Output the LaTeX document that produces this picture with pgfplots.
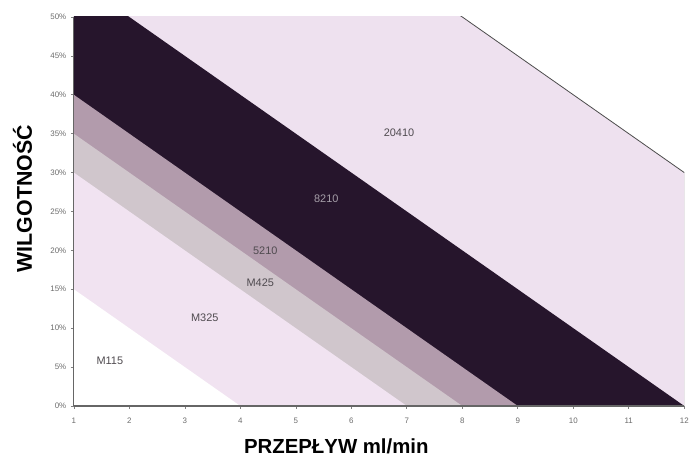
\documentclass[border=0pt]{standalone}
\usepackage{fontspec}
\setmainfont{Liberation Sans}
\usepackage{pgfplots}
\pgfplotsset{compat=1.18}
\definecolor{c20410}{RGB}{238,225,239}
\definecolor{c8210}{RGB}{38,21,44}
\definecolor{c5210}{RGB}{178,155,172}
\definecolor{cM425}{RGB}{208,198,204}
\definecolor{cM325}{RGB}{241,227,241}
\definecolor{lbl}{RGB}{80,75,80}
\begin{document}
\begin{tikzpicture}
\begin{axis}[
 scale only axis, width=612bp, height=390bp,
 xmin=1, xmax=12, ymin=0, ymax=50,
 xtick={1,...,12}, ytick={0,5,...,50},
 yticklabel={\pgfmathprintnumber{\tick}\%},
 axis x line*=bottom, axis y line*=left,
 axis line style={gray!80!black, line width=1.2pt, -},
 tick style={gray, line width=0.6pt},
 tick align=outside, major tick length=3bp,
 ticklabel style={font=\fontsize{8}{9}\selectfont, text=gray!85!black},
 xticklabel style={yshift=-5bp, text height=6bp, text depth=0bp, anchor=north},
 yticklabel style={xshift=-1bp},
 /pgf/number format/assume math mode=true,
 xlabel={PRZEPŁYW ml/min}, ylabel={WILGOTNOŚĆ},
 xlabel style={font=\fontsize{20.5}{22}\selectfont\bfseries, at={(axis description cs:0.43,-0.123)}, anchor=base},
 ylabel style={font=\fontsize{21.5}{23}\selectfont\bfseries, at={(axis description cs:-0.084,0.533)}, anchor=center},
 clip=true, axis on top,
]
% 20410
\addplot[fill=c20410, draw=none] coordinates {(1,85)(2,80)(3,75)(4,70)(5,65)(6,60)(7,55)(8,50)(9,45)(10,40)(11,35)(12,30)} \closedcycle;
% 8210
\addplot[fill=c8210, draw=none] coordinates {(1,55)(2,50)(3,45)(4,40)(5,35)(6,30)(7,25)(8,20)(9,15)(10,10)(11,5)(12,0)} \closedcycle;
% 5210
\addplot[fill=c5210, draw=none] coordinates {(1,40)(2,35)(3,30)(4,25)(5,20)(6,15)(7,10)(8,5)(9,0)(12,0)} \closedcycle;
% M425
\addplot[fill=cM425, draw=none] coordinates {(1,35)(2,30)(3,25)(4,20)(5,15)(6,10)(7,5)(8,0)(12,0)} \closedcycle;
% M325
\addplot[fill=cM325, draw=none] coordinates {(1,30)(2,25)(3,20)(4,15)(5,10)(6,5)(7,0)(12,0)} \closedcycle;
% M115
\addplot[fill=white, draw=none] coordinates {(1,15)(2,10)(3,5)(4,0)(12,0)} \closedcycle;
% outline of 20410
\addplot[gray!60!black, line width=0.8pt] coordinates {(7,55)(8,50)(9,45)(10,40)(11,35)(12,30)};
\addplot[gray!40, line width=0.6pt] coordinates {(12,30)(12,0)};
\node[font=\fontsize{11}{12}\selectfont, text=lbl] at (axis cs:6.86,35.1) {20410};
\node[font=\fontsize{11}{12}\selectfont, text={rgb,255:red,165;green,158;blue,168}] at (axis cs:5.55,26.7) {8210};
\node[font=\fontsize{11}{12}\selectfont, text=lbl] at (axis cs:4.45,20.0) {5210};
\node[font=\fontsize{11}{12}\selectfont, text=lbl] at (axis cs:4.36,15.9) {M425};
\node[font=\fontsize{11}{12}\selectfont, text=lbl] at (axis cs:3.36,11.3) {M325};
\node[font=\fontsize{11}{12}\selectfont, text=lbl] at (axis cs:1.65,5.8) {M115};
\end{axis}
\path[use as bounding box] (-74bp,-50bp) rectangle (618bp,407bp);
\end{tikzpicture}
\end{document}
